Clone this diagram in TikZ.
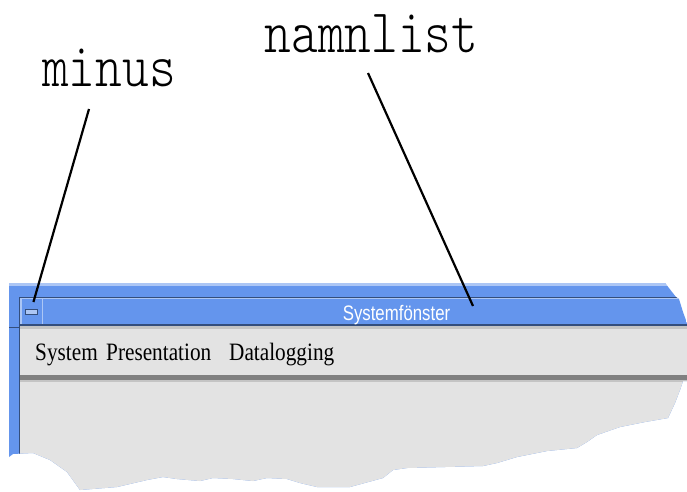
\documentclass[tikz,border=0pt]{standalone}
\usepackage{fontspec}
\newfontfamily\calloutfont[FakeStretch=0.82]{Latin Modern Mono Light}
\newfontfamily\menufont[FakeStretch=0.85]{Liberation Serif}
\newfontfamily\titlefont[FakeStretch=0.8]{Liberation Sans}
\usetikzlibrary{positioning}
\definecolor{frameblue}{RGB}{100,149,237}
\definecolor{framelight}{RGB}{172,198,245}
\definecolor{framedark}{RGB}{52,78,124}
\definecolor{menugray}{RGB}{227,227,227}
\definecolor{bandgray}{RGB}{128,128,128}
\definecolor{edgegray}{RGB}{196,196,196}

\begin{document}
\begin{tikzpicture}[x=1pt,y=-1pt,
      callout/.style={font=\calloutfont\fontsize{62}{62}\selectfont,inner sep=0pt,anchor=base},
      leader/.style={line width=2.2pt},
      menuitem/.style={font=\menufont\fontsize{25}{25}\selectfont,inner sep=0pt,anchor=base west},
      wintitle/.style={font=\titlefont\fontsize{21}{21}\selectfont,text=white,inner sep=0pt,anchor=base},
      minusbtn/.style={draw=framedark,line width=0.6pt,fill=framelight,minimum width=12pt,minimum height=5pt,inner sep=0pt}]
      \useasboundingbox (0,0) rectangle (687,491);
      \begin{scope}
        \clip (9,283) -- (665,283) -- (676,297) -- (679,299) -- (683,312) -- (687,323) -- (687,381)
          -- (683,381) -- (680,390) -- (675,403) -- (668,418) -- (645,422) -- (620,427) -- (597,435)
          -- (587,442) -- (577,448) -- (547,451) -- (517,457) -- (497,463) -- (483,466) -- (407,468)
          -- (393,470) -- (383,478) -- (350,487) -- (317,487) -- (300,483) -- (287,479) -- (267,478)
          -- (253,481) -- (233,479) -- (213,478) -- (200,481) -- (177,479) -- (163,477) -- (147,480)
          -- (117,487) -- (80,490) -- (67,472) -- (50,460) -- (33,453) -- (13,454) -- (9,457) -- cycle;
        \fill[frameblue] (9,283) rectangle (687,491);
        \fill[framelight] (9,283) rectangle (687,285.5);
        \fill[framedark] (18.5,296.5) rectangle (687,297.5);
        \fill[framelight] (20,297.5) rectangle (687,299);
        \fill[framedark] (18.5,296.5) rectangle (20,491);
        \fill[framelight] (20,297.5) rectangle (21.5,325);
        \fill[framelight] (41.5,298) rectangle (43,324);
        \fill[framedark] (9,326.5) rectangle (19,328);
        \fill[menugray] (20,325) rectangle (687,491);
        \fill[framedark] (19,323.5) rectangle (687,325.5);
        \fill[edgegray] (20,325.5) rectangle (687,328.5);
        \fill[bandgray] (20,375) rectangle (687,380);
        \fill[edgegray] (20,380) rectangle (687,382);
      \end{scope}
      \node[minusbtn] (minusbtn) at (31.5,311.5) {};
      \node[wintitle] (title) at (396.5,320) {Systemfönster};
      \coordinate (titletip) at (473,306);
      \node[menuitem] (msystem) at (35,360) {System};
      \node[menuitem] (mpresent) at (106,360) {Presentation};
      \node[menuitem] (mlogging) at (229,360) {Datalogging};
      \node[callout] (minus) at (109,86) {minus};
      \node[callout] (namnlist) at (371.5,52) {namnlist};
      \draw[leader,shorten >=7pt] ([xshift=-20pt,yshift=-23pt]minus.base) -- (minusbtn.north);
      \draw[leader] ([xshift=-3.5pt,yshift=-21pt]namnlist.base) -- (titletip);
\end{tikzpicture}
\end{document}
